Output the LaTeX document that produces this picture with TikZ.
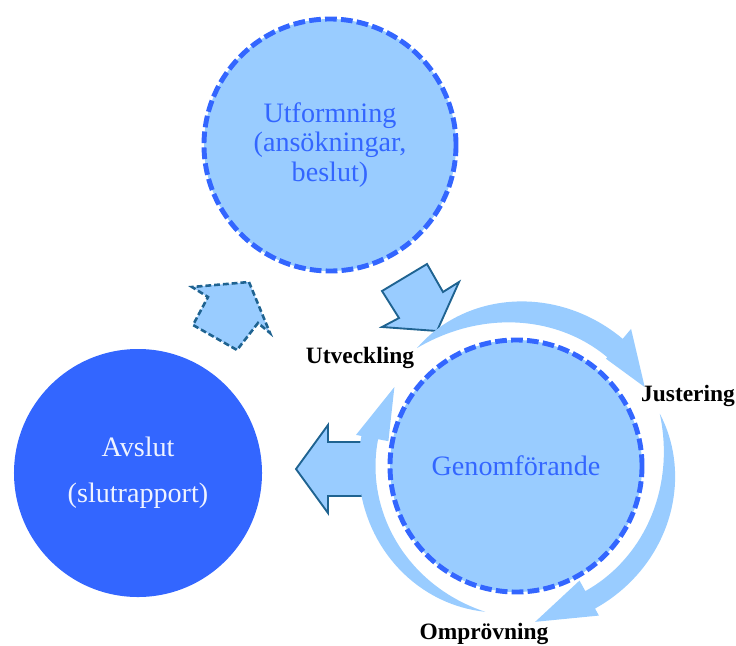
\documentclass[tikz,border=0pt]{standalone}
\usepackage{fontspec}
\setmainfont{Liberation Serif}
\usepackage{xcolor}
\usetikzlibrary{positioning}
\definecolor{skyfill}{HTML}{99CCFF}
\definecolor{royal}{HTML}{3366FF}
\definecolor{petrol}{HTML}{1F6391}

\begin{document}
\begin{tikzpicture}[x=0.03cm, y=-0.03cm,
    phase/.style={circle, draw=royal, fill=skyfill, line width=4.2pt, dash pattern=on 10pt off 3.6pt, minimum size=7.56cm, inner sep=0pt, align=center, text=royal, font=\fontsize{24}{25.5}\selectfont},
    endphase/.style={circle, fill=royal, minimum size=7.44cm, inner sep=0pt, align=center, text=white!92!royal, font=\fontsize{24}{39}\selectfont},
    blockarrow/.style={draw=petrol, fill=skyfill, line width=1.6pt, line join=miter},
    stepname/.style={font=\fontsize{20}{24}\selectfont\bfseries, text=black, inner sep=1pt},
    cyclefill/.style={fill=skyfill}
]
\useasboundingbox (0,0) rectangle (736,645);

% Phases
\node[phase] (design) at (330,145) {Utformning\\(ansökningar,\\beslut)};
\node[phase] (exec) at (516,466) {Genomförande};
\node[endphase] (close) at (138,473) {Avslut\\(slutrapport)};

% Block arrows between phases
\draw[blockarrow] (382,291) -- (427,264) -- (443,292) -- (459,282) -- (437,331) -- (382,327) -- (399,318) -- cycle;
\draw[blockarrow] (296,469) -- (328,425) -- (328,442) -- (362,442) -- (362,496) -- (328,496) -- (328,513) -- cycle;
\draw[blockarrow, dash pattern=on 5pt off 2.5pt, line width=2.2pt] (249,282) -- (270,333) -- (258,323) -- (237,350) -- (193,325) -- (208,297) -- (192,287) -- cycle;

% Cycle around Genomförande
\begin{scope}[shift={(exec.center)}]
\fill[cyclefill] plot[domain=230:310, samples=40] (\x:{154+12*(1-((310-\x)/80)^3)})
    -- (310:179) -- (328.5:151) -- (310:140)
    -- plot[domain=310:230, samples=40] (\x:{154-12*(1-((310-\x)/80)^3)}) -- cycle;
\fill[cyclefill] plot[domain=340:421, samples=40] (\x:{153+10*(1-((421-\x)/81)^3)})
    -- (421:171) -- (443:157) -- (421:131)
    -- plot[domain=421:340, samples=40] (\x:{153-10*(1-((421-\x)/81)^3)}) -- cycle;
\fill[cyclefill] plot[domain=102:191, samples=40] (\x:{149+8.5*(1-((191-\x)/89)^3)})
    -- (191:163) -- (213:145) -- (191:130)
    -- plot[domain=191:102, samples=40] (\x:{149-8.5*(1-((191-\x)/89)^3)}) -- cycle;
\end{scope}

% Step labels
\node[stepname] (dev) at (360,358) {Utveckling};
\node[stepname] (adjust) at (688,396) {Justering};
\node[stepname] (review) at (484,634) {Omprövning};

\end{tikzpicture}
\end{document}
